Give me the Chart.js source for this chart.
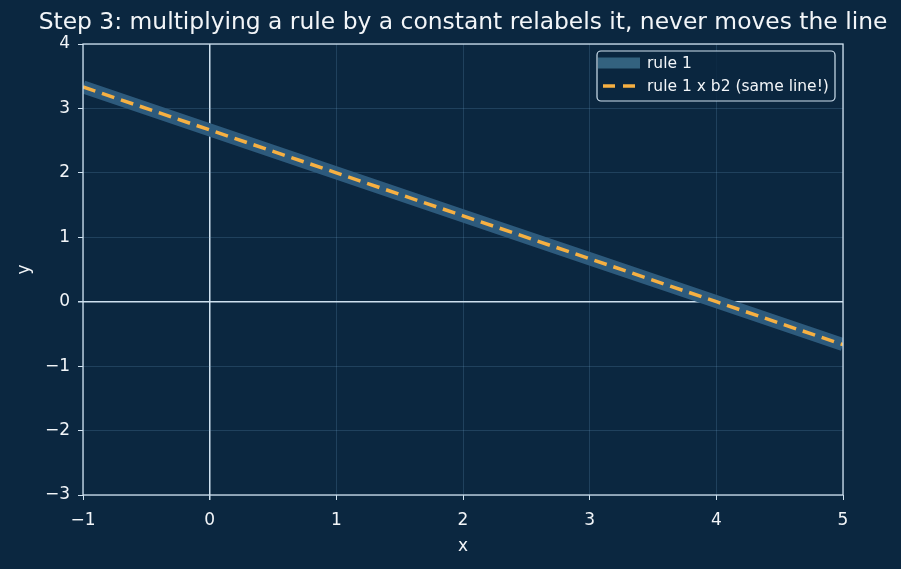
<!DOCTYPE html>
<html>
<head>
<meta charset="utf-8">
<script src="https://cdn.jsdelivr.net/npm/chart.js@4/dist/chart.umd.min.js"></script>
<style>
html,body{margin:0;padding:0;background:#0b2740;}
#wrap{position:relative;width:901px;height:569px;}
</style>
</head>
<body>
<div id="wrap"><canvas id="c" width="901" height="569"></canvas></div>
<script>
// ---- data ----
const xValues = [-1, 0, 1, 2, 3, 4, 5];
const rule1Y = [3.333, 2.667, 2.0, 1.333, 0.667, 0.0, -0.667];
const rule1ScaledY = [3.333, 2.667, 2.0, 1.333, 0.667, 0.0, -0.667];
const xTicks = [-1, 0, 1, 2, 3, 4, 5];
const yTicks = [-3, -2, -1, 0, 1, 2, 3, 4];
const seriesLabels = ['rule 1', 'rule 1 x b2 (same line!)'];
const titleText = 'Step 3: multiplying a rule by a constant relabels it, never moves the line';

const BG = '#0b2740';
const SPINE = '#cfe1ef';
const GRID = 'rgba(120,170,210,0.20)';
const TEXT = '#f2f5f8';
const FONT = 'DejaVu Sans';

const toPts = (xs, ys) => xs.map((x, i) => ({x: x, y: ys[i]}));
const fmt = v => (v < 0 ? '\u2212' + Math.abs(v) : String(v));

const framePlugin = {
  id: 'frame',
  beforeDraw(chart) {
    const ctx = chart.ctx;
    ctx.save();
    ctx.fillStyle = BG;
    ctx.fillRect(0, 0, chart.width, chart.height);
    ctx.restore();
  },
  afterDraw(chart) {
    const a = chart.chartArea, ctx = chart.ctx;
    ctx.save();
    // title
    ctx.fillStyle = TEXT;
    ctx.font = '23.4px "' + FONT + '"';
    ctx.textAlign = 'center';
    ctx.textBaseline = 'middle';
    ctx.fillText(titleText, (a.left + a.right) / 2, 23);
    // frame
    ctx.strokeStyle = SPINE;
    ctx.lineWidth = 1.3;
    ctx.strokeRect(a.left, a.top, a.right - a.left, a.bottom - a.top);
    // legend
    const bx = 597, by = 51, bw = 238, bh = 50;
    ctx.beginPath();
    ctx.roundRect(bx, by, bw, bh, 4);
    ctx.fillStyle = 'rgba(11,39,64,0.85)';
    ctx.fill();
    ctx.lineWidth = 1.2;
    ctx.strokeStyle = SPINE;
    ctx.stroke();
    const ds = chart.data.datasets;
    const rows = [63, 86];
    ds.forEach((d, i) => {
      ctx.save();
      ctx.beginPath();
      ctx.strokeStyle = i === 0 ? '#33627f' : d.borderColor;
      ctx.lineWidth = i === 0 ? 11 : d.borderWidth;
      ctx.setLineDash(i === 0 ? [] : [12, 8]);
      ctx.moveTo(i === 0 ? 598 : 603, rows[i]);
      ctx.lineTo(640, rows[i]);
      ctx.stroke();
      ctx.restore();
      ctx.fillStyle = TEXT;
      ctx.font = '15.5px "' + FONT + '"';
      ctx.textBaseline = 'middle';
      ctx.textAlign = 'left';
      ctx.fillText(d.label, 647, rows[i] + 1);
    });
    ctx.restore();
  }
};

new Chart(document.getElementById('c'), {
  type: 'scatter',
  data: {
    datasets: [
      {
        label: seriesLabels[0],
        data: toPts(xValues, rule1Y),
        showLine: true,
        borderColor: '#2d5a7c',
        borderWidth: 13,
        borderCapStyle: 'butt',
        pointRadius: 0,
        clip: 0,
        order: 2
      },
      {
        label: seriesLabels[1],
        data: toPts(xValues, rule1ScaledY),
        showLine: true,
        borderColor: '#f6b042',
        borderWidth: 3.5,
        borderDash: [13, 7],
        borderCapStyle: 'butt',
        pointRadius: 0,
        clip: 0,
        order: 1
      }
    ]
  },
  options: {
    responsive: false,
    animation: false,
    layout: {padding: {left: 0, right: 58, top: 44, bottom: 0}},
    plugins: {
      legend: {display: false},
      tooltip: {enabled: false},
      title: {display: false}
    },
    scales: {
      x: {
        type: 'linear',
        min: -1, max: 5,
        afterBuildTicks: s => { s.ticks = xTicks.map(v => ({value: v})); },
        afterFit: s => { s.height = 74; },
        ticks: {color: TEXT, font: {family: FONT, size: 17}, padding: 10, callback: v => fmt(v), maxRotation: 0},
        grid: {
          color: c => (c.tick && c.tick.value === 0 ? SPINE : GRID),
          lineWidth: c => (c.tick && c.tick.value === 0 ? 1.5 : 1),
          tickColor: SPINE, tickLength: 5, drawTicks: true
        },
        border: {display: false},
        title: {display: true, text: 'x', color: TEXT, font: {family: FONT, size: 17}, padding: {top: 0, bottom: 12}}
      },
      y: {
        type: 'linear',
        min: -3, max: 4,
        afterBuildTicks: s => { s.ticks = yTicks.map(v => ({value: v})); },
        afterFit: s => { s.width = 83; },
        ticks: {color: TEXT, font: {family: FONT, size: 17}, padding: 8, callback: v => fmt(v)},
        grid: {
          color: c => (c.tick && c.tick.value === 0 ? SPINE : GRID),
          lineWidth: c => (c.tick && c.tick.value === 0 ? 1.5 : 1),
          tickColor: SPINE, tickLength: 5, drawTicks: true
        },
        border: {display: false},
        title: {display: true, text: 'y', color: TEXT, font: {family: FONT, size: 17}, padding: {top: 14, bottom: 0}}
      }
    }
  },
  plugins: [framePlugin]
});
</script>
</body>
</html>
